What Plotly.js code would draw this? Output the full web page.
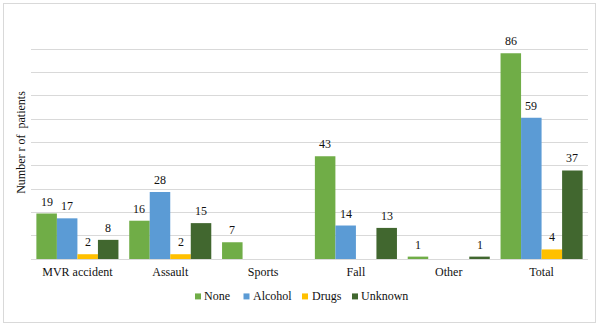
<!DOCTYPE html>
<html>
<head>
<meta charset="utf-8">
<script src="https://cdn.plot.ly/plotly-3.0.1.min.js"></script>
<style>
  html, body { margin: 0; padding: 0; background: #ffffff; }
  #wrap { position: relative; width: 600px; height: 325px; }
  #frame { position: absolute; left: 3px; top: 3px; width: 591px; height: 318px; border: 1px solid #d9d9d9; pointer-events: none; }
  #chart { position: absolute; left: 0; top: 0; width: 600px; height: 325px; }
</style>
</head>
<body>
<div id="wrap">
  <div id="chart"></div>
  <div id="frame"></div>
</div>
<script>
const categories = ["MVR accident", "Assault", "Sports", "Fall", "Other", "Total"];
const seriesNames = ["None", "Alcohol", "Drugs", "Unknown"];
const noneVals = [19, 16, 7, 43, 1, 86];
const alcoholVals = [17, 28, null, 14, null, 59];
const drugsVals = [2, 2, null, null, null, 4];
const unknownVals = [8, 15, null, 13, 1, 37];
const yTitle = "Number r of\u00a0 patients";

const colors = ["#70AD47", "#5B9BD5", "#FFC000", "#41672F"];
const values = [noneVals, alcoholVals, drugsVals, unknownVals];
const serif = "Liberation Serif";
const textColor = "#111111";

const W = 600, H = 325;
const M = { l: 31, r: 12, t: 25.5, b: 66 };
const plotW = W - M.l - M.r, plotH = H - M.t - M.b;
const bargap = 0.116;
const barW = plotW / categories.length * (1 - bargap) / seriesNames.length;

const traces = seriesNames.map((name, i) => ({
  type: "bar",
  name: name,
  x: categories,
  y: values[i],
  marker: { color: colors[i], line: { width: 0 } },
  hoverinfo: "skip",
  showlegend: false
}));

// data labels
const annotations = [];
seriesNames.forEach((name, i) => {
  values[i].forEach((v, j) => {
    if (v === null) return;
    annotations.push({
      x: categories[j], y: v, xref: "x", yref: "y",
      text: String(v), showarrow: false,
      xanchor: "center", yanchor: "bottom",
      xshift: (i - 1.5) * barW, yshift: 3,
      font: { family: serif, size: 12, color: textColor }
    });
  });
});

// legend (square + text)
const px2x = p => (p - M.l) / plotW;
const py2y = p => (H - M.b - p) / plotH;
const legendSquareX = [195, 243.5, 302, 352];
const legendTextX = [202, 251, 310, 359];
const legendY = 296.5;
const shapes = [];
seriesNames.forEach((name, i) => {
  shapes.push({
    type: "rect", xref: "paper", yref: "paper",
    x0: px2x(legendSquareX[i]), x1: px2x(legendSquareX[i] + 6),
    y0: py2y(legendY + 3), y1: py2y(legendY - 3),
    fillcolor: colors[i], line: { width: 0 }
  });
  annotations.push({
    x: px2x(legendTextX[i]), y: py2y(legendY), xref: "paper", yref: "paper",
    text: name, showarrow: false, xanchor: "left", yanchor: "middle",
    font: { family: serif, size: 12, color: textColor }
  });
});

const layout = {
  width: W,
  height: H,
  margin: M,
  paper_bgcolor: "rgba(0,0,0,0)",
  plot_bgcolor: "#ffffff",
  barmode: "group",
  bargap: bargap,
  bargroupgap: 0,
  showlegend: false,
  xaxis: {
    type: "category",
    showline: true,
    linecolor: "#d9d9d9",
    linewidth: 1,
    ticks: "",
    ticklabelstandoff: 2,
    tickfont: { family: serif, size: 12, color: textColor },
    showgrid: false,
    fixedrange: true
  },
  yaxis: {
    range: [0, 97.4],
    tick0: 0,
    dtick: 9.74,
    showticklabels: false,
    ticks: "",
    showgrid: true,
    gridcolor: "#d9d9d9",
    gridwidth: 1,
    zeroline: false,
    title: { text: yTitle, font: { family: serif, size: 12, color: textColor }, standoff: 1 },
    fixedrange: true
  },
  font: { family: serif, size: 12, color: textColor },
  annotations: annotations,
  shapes: shapes
};

Plotly.newPlot("chart", traces, layout, { displayModeBar: false, staticPlot: true });
</script>
</body>
</html>
